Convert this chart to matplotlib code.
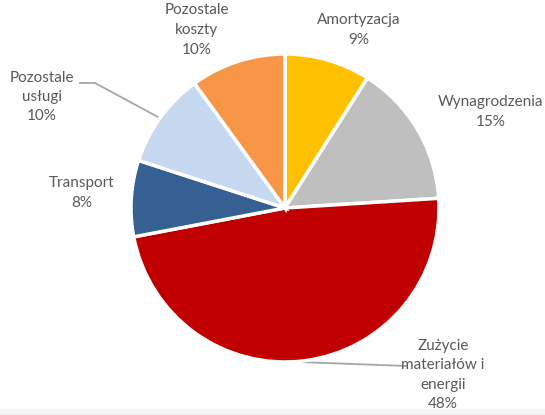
import matplotlib.pyplot as plt
from matplotlib.patches import Rectangle

# %% Data
categories = ["Amortyzacja", "Wynagrodzenia", "Zużycie\nmateriałów i\nenergii",
              "Transport", "Pozostale\nusługi", "Pozostale\nkoszty"]
shares = [9, 15, 48, 8, 10, 10]

# %% Style
COLORS = ["#FFC000", "#BFBFBF", "#C00000", "#376092", "#C6D9F1", "#F79646"]
TEXT_COLOR = "#595959"
LINE_COLOR = "#A6A6A6"

plt.rcParams.update({"font.family": ["Lato", "DejaVu Sans"], "font.size": 11})

W, H = 545, 415
CX, CY, R = 285, 208, 154  # pie centre and radius in pixels


def to_data(x, y):
    return (x - CX) / R, (CY - y) / R


# label centres (pixels) and optional leader lines
label_px = [(359, 30), (491, 112), (443, 375), (82, 193), (42, 97), (197, 30)]
leaders = {
    2: [(299, 362), (407, 366)],
    4: [(80, 83), (95, 83), (158, 117)],
}

fig = plt.figure(figsize=(W / 100, H / 100), dpi=100)

# thin grey strip along the bottom edge, behind everything
fig.patches.append(Rectangle((0, 0), 1, 6 / H, transform=fig.transFigure,
                             facecolor="#F4F4F4", edgecolor="none", zorder=-5))

ax = fig.add_axes([(CX - R) / W, 1 - (CY + R) / H, 2 * R / W, 2 * R / H])
ax.set_zorder(2)
ax.patch.set_visible(False)

ax.pie(
    shares,
    colors=COLORS,
    startangle=90,
    counterclock=False,
    radius=1,
    wedgeprops={"edgecolor": "white", "linewidth": 2.5},
)
ax.set_xlim(-1, 1)
ax.set_ylim(-1, 1)
ax.set_aspect("equal")

for i, (name, val) in enumerate(zip(categories, shares)):
    lx, ly = to_data(*label_px[i])
    ax.text(lx, ly, f"{name}\n{val}%", ha="center", va="center",
            color=TEXT_COLOR, fontsize=11, linespacing=1.5, clip_on=False)

for pts in leaders.values():
    xs, ys = zip(*[to_data(*p) for p in pts])
    ax.plot(xs, ys, color=LINE_COLOR, lw=1.3, clip_on=False, zorder=0)

fig.savefig("out.png", dpi=100)
